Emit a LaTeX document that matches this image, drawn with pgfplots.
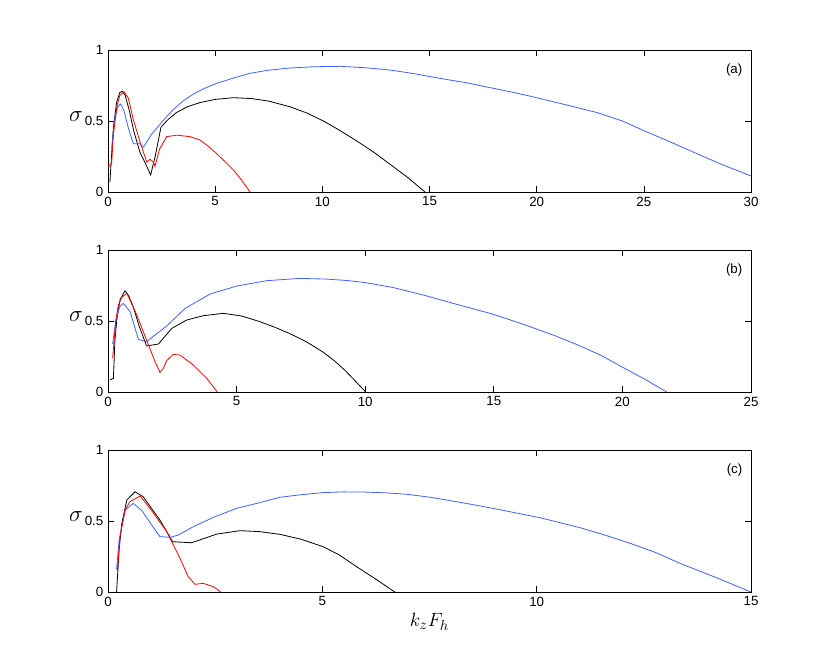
\documentclass[border=0pt]{standalone}
\usepackage{pgfplots}
\pgfplotsset{compat=1.18}
\usepackage{fontspec}
\setmainfont{Liberation Sans}
\definecolor{mblue}{RGB}{64,96,255}
\definecolor{mred}{RGB}{255,0,0}

\pgfplotsset{
  panel/.style={
    at={#1}, anchor=south west,
    scale only axis, width=482.25pt, height=106.5pt,
    ymin=0, ymax=1, ytick={0,0.5,1},
    tick align=inside, major tick length=4.5pt,
    axis line style={line width=0.5pt},
    every tick/.style={black, line width=0.5pt},
    tick label style={font=\fontsize{10}{12}\selectfont},
    /pgf/number format/assume math mode=true,
    clip mode=individual,
  },
  every axis plot/.append style={line width=0.6pt, no marks},
}

\begin{document}
\begin{tikzpicture}
\path[use as bounding box] (0,0) rectangle (622.5pt,499.5pt);

% (a)
\begin{axis}[panel={(81pt,355.5pt)}, xmin=0, xmax=30, xtick={0,5,...,30}]
\addplot[black] coordinates {(0.09,0.07)(0.15,0.22)(0.25,0.45)(0.4,0.63)(0.55,0.70)(0.67,0.71)(0.8,0.68)(1.0,0.57)(1.2,0.43)(1.49,0.28)(1.75,0.2)(1.99,0.12)(2.2,0.25)(2.47,0.456)(2.8,0.51)(3.2,0.56)(3.7,0.60)(4.3,0.63)(5.0,0.652)(5.85,0.664)(6.7,0.658)(7.5,0.64)(8.49,0.60)(9.3,0.555)(10.05,0.50)(10.8,0.435)(11.6,0.36)(12.4,0.28)(13.16,0.195)(14.0,0.10)(14.79,0)};
\addplot[mblue] coordinates {(0.17,0.30)(0.3,0.5)(0.45,0.6)(0.59,0.62)(0.75,0.57)(0.95,0.45)(1.18,0.34)(1.49,0.34)(1.65,0.315)(2.0,0.40)(2.5,0.49)(2.97,0.57)(3.5,0.64)(3.98,0.69)(4.5,0.73)(5.07,0.765)(5.8,0.80)(6.63,0.836)(7.5,0.858)(8.49,0.873)(9.6,0.882)(10.83,0.885)(12,0.875)(13.16,0.859)(14.3,0.833)(15.49,0.80)(16.7,0.77)(17.82,0.735)(18.8,0.705)(19.69,0.675)(21.2,0.62)(22.8,0.56)(24,0.50)(25.03,0.43)(26.2,0.355)(27.47,0.27)(28.7,0.19)(30,0.113)};
\addplot[mred] coordinates {(0.01,0.18)(0.17,0.2)(0.25,0.4)(0.41,0.6)(0.55,0.68)(0.75,0.706)(0.95,0.66)(1.18,0.51)(1.5,0.35)(1.81,0.21)(1.96,0.23)(2.12,0.21)(2.19,0.18)(2.4,0.3)(2.74,0.39)(3.21,0.40)(3.82,0.39)(4.29,0.366)(4.7,0.32)(5.07,0.27)(5.45,0.215)(5.85,0.155)(6.25,0.08)(6.63,0)};
\node[anchor=north east, font=\fontsize{10}{12}\selectfont] at (rel axis cs:1,1) [xshift=-3pt,yshift=-7pt] {(a)};
\node at (rel axis cs:0,0.5) [xshift=-24pt,yshift=3pt] {\fontsize{16}{18}\selectfont$\sigma$};
\end{axis}

% (b)
\begin{axis}[panel={(81pt,205.5pt)}, xmin=0, xmax=25, xtick={0,5,...,25}]
\addplot[black] coordinates {(0.08,0.085)(0.21,0.096)(0.27,0.366)(0.35,0.52)(0.47,0.65)(0.66,0.713)(0.8,0.68)(0.98,0.60)(1.2,0.47)(1.5,0.324)(1.96,0.338)(2.48,0.448)(3.06,0.507)(3.7,0.537)(4.48,0.554)(5.2,0.535)(5.91,0.495)(6.5,0.455)(7.08,0.41)(7.7,0.355)(8.37,0.28)(8.8,0.22)(9.2,0.155)(9.6,0.08)(10.02,0)};
\addplot[mblue] coordinates {(0.18,0.338)(0.3,0.5)(0.45,0.6)(0.6,0.624)(0.86,0.566)(1.18,0.371)(1.5,0.354)(2.28,0.465)(3.0,0.589)(3.97,0.69)(5.0,0.746)(6.17,0.784)(7.47,0.80)(8.5,0.795)(9.3,0.785)(10.02,0.77)(11.1,0.735)(12.26,0.683)(13.5,0.62)(14.85,0.554)(15.6,0.51)(16.41,0.46)(17.4,0.395)(18.35,0.325)(19.2,0.255)(20.04,0.171)(20.9,0.087)(21.72,0)};
\addplot[mred] coordinates {(0.18,0.237)(0.3,0.5)(0.4,0.61)(0.53,0.665)(0.73,0.695)(0.9,0.63)(1.12,0.542)(1.5,0.366)(1.83,0.213)(2.02,0.138)(2.15,0.166)(2.28,0.22)(2.54,0.265)(2.8,0.26)(3.32,0.19)(3.84,0.096)(4.25,0)};
\node[anchor=north east, font=\fontsize{10}{12}\selectfont] at (rel axis cs:1,1) [xshift=-3pt,yshift=-7pt] {(b)};
\node at (rel axis cs:0,0.5) [xshift=-24pt,yshift=3pt] {\fontsize{16}{18}\selectfont$\sigma$};
\end{axis}

% (c)
\begin{axis}[panel={(81pt,55.5pt)}, xmin=0, xmax=15, xtick={0,5,10,15},
  xlabel={$k_zF_h$},
  xlabel style={at={(axis description cs:0.5,0)}, anchor=center, yshift=-22.5pt, font=\fontsize{15}{17}\selectfont}]
\addplot[black] coordinates {(0.2,0)(0.26,0.3)(0.32,0.48)(0.44,0.648)(0.63,0.706)(0.82,0.671)(1.21,0.507)(1.51,0.354)(1.95,0.347)(2.54,0.408)(3.08,0.432)(3.54,0.425)(4.01,0.406)(4.5,0.372)(5.02,0.319)(5.4,0.26)(5.80,0.178)(6.25,0.09)(6.69,0)};
\addplot[mblue] coordinates {(0.2,0.16)(0.26,0.366)(0.4,0.577)(0.59,0.624)(0.79,0.573)(1.02,0.472)(1.21,0.39)(1.45,0.385)(1.64,0.401)(1.99,0.46)(2.46,0.526)(3.0,0.589)(3.47,0.624)(4.01,0.667)(4.5,0.685)(5.02,0.700)(5.5,0.705)(5.96,0.704)(6.5,0.698)(6.97,0.688)(7.5,0.668)(8.13,0.636)(8.7,0.605)(9.30,0.57)(10.08,0.523)(11.01,0.453)(11.6,0.40)(12.18,0.343)(12.8,0.275)(13.34,0.202)(14.2,0.10)(15,0)};
\addplot[mred] coordinates {(0.22,0.155)(0.28,0.39)(0.4,0.577)(0.51,0.636)(0.75,0.676)(0.98,0.589)(1.37,0.425)(1.68,0.237)(1.87,0.108)(2.03,0.054)(2.22,0.061)(2.46,0.037)(2.63,0)};
\node[anchor=north east, font=\fontsize{10}{12}\selectfont] at (rel axis cs:1,1) [xshift=-3pt,yshift=-7pt] {(c)};
\node at (rel axis cs:0,0.5) [xshift=-24pt,yshift=3pt] {\fontsize{16}{18}\selectfont$\sigma$};
\end{axis}
\end{tikzpicture}
\end{document}
